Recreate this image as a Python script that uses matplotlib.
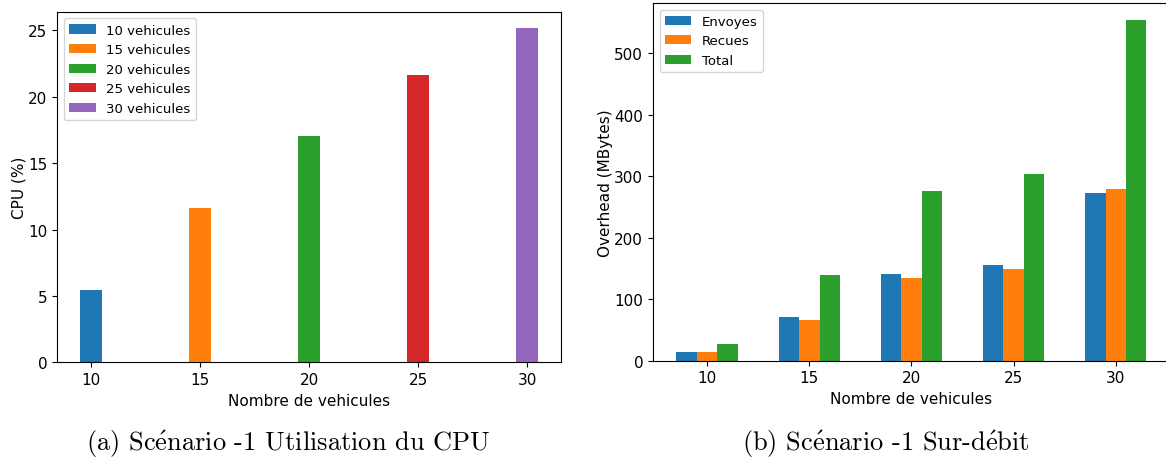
import matplotlib
matplotlib.use("Agg")
import matplotlib.pyplot as plt
import numpy as np

# data
vehicules = [10, 15, 20, 25, 30]
cpu = [5.45, 11.6, 17.05, 21.65, 25.15]
envoyes = [13.5, 71.5, 141, 155, 273.5]
recues = [14, 66.5, 134.5, 148.5, 280]
total = [27.5, 139, 275.5, 304, 554]

colors = ['#1f77b4', '#ff7f0e', '#2ca02c', '#d62728', '#9467bd']

plt.rcParams['font.size'] = 11
plt.rcParams['legend.fontsize'] = 9.5
plt.rcParams['mathtext.fontset'] = 'cm'

fig = plt.figure(figsize=(11.66, 4.6), dpi=100)

# (a) CPU
ax1 = fig.add_axes([0.0491, 0.2102, 0.432, 0.762])
for i, v in enumerate(vehicules):
    ax1.bar(v, cpu[i], width=1, color=colors[i], label="{} vehicules".format(v))
ax1.set_xticks(vehicules)
ax1.set_xlabel("Nombre de vehicules")
ax1.set_ylabel("CPU (%)", labelpad=1)
ax1.legend(loc="upper left")

# (b) overhead -- right side runs past the figure edge like in the original
ax2 = fig.add_axes([0.560, 0.2137, 0.4434, 0.7776])
x = np.array(vehicules)
ax2.bar(x - 1, envoyes, width=1, color=colors[0], label="Envoyes")
ax2.bar(x, recues, width=1, color=colors[1], label="Recues")
ax2.bar(x + 1, total, width=1, color=colors[2], label="Total")
ax2.set_xticks(vehicules)
ax2.set_xlabel("Nombre de vehicules")
ax2.set_ylabel("Overhead (MBytes)", labelpad=1)
ax2.legend(loc="upper left")

cap_font = ['cmr10', 'DejaVu Serif']
fig.text(0.0738, 0.02, r"(a) Sc$\acute{\rm e}$nario -1 Utilisation du CPU", ha="left",
         va="baseline", fontsize=19, family=cap_font)
fig.text(0.636, 0.02, r"(b) Sc$\acute{\rm e}$nario -1 Sur-d$\acute{\rm e}$bit", ha="left",
         va="baseline", fontsize=19, family=cap_font)

fig.savefig("out.png", dpi=100)
